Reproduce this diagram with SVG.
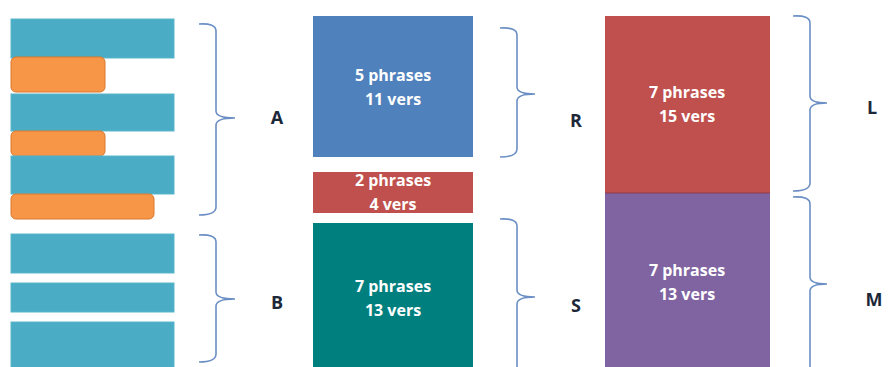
<svg xmlns="http://www.w3.org/2000/svg" width="890" height="367" viewBox="0 0 890 367">
  <style>
    .bar { fill: #4aacc5; stroke: #5bb5cc; stroke-width: 1; }
    .alt { fill: #f79646; stroke: #d9782f; stroke-width: 1; }
    .box { stroke: none; }
    .inner { font-family: "Open Sans", "Liberation Sans", sans-serif; font-weight: 700; font-size: 16px; fill: #ffffff; text-anchor: middle; }
    .brace { fill: none; stroke: #6b8fc4; stroke-width: 1.6; }
    .label { font-family: "Open Sans", "Liberation Sans", sans-serif; font-weight: 700; font-size: 18px; fill: #1c2838; text-anchor: middle; }
  </style>
  <rect width="890" height="367" fill="#ffffff"/>

  <!-- left column: verse lines -->
  <g id="lines">
    <rect class="bar" x="11" y="19" width="163" height="39"/>
    <rect class="alt" x="11" y="57" width="94" height="35" rx="5"/>
    <rect class="bar" x="11" y="94" width="163" height="37"/>
    <rect class="alt" x="11" y="131" width="94" height="25" rx="5"/>
    <rect class="bar" x="11" y="156" width="163" height="38"/>
    <rect class="alt" x="11" y="194" width="143" height="25" rx="5"/>
    <rect class="bar" x="11" y="234" width="163" height="39"/>
    <rect class="bar" x="11" y="283" width="163" height="29"/>
    <rect class="bar" x="11" y="322" width="163" height="50"/>
  </g>

  <!-- middle column -->
  <g id="box-r">
    <rect class="box" x="313" y="16" width="160" height="141" fill="#4f81bd"/>
    <text class="inner" x="393" y="81">5 phrases</text>
    <text class="inner" x="393" y="105">11 vers</text>
  </g>
  <g id="box-bridge">
    <rect class="box" x="313" y="172" width="160" height="41" fill="#c0504d"/>
    <text class="inner" x="393" y="186">2 phrases</text>
    <text class="inner" x="393" y="210">4 vers</text>
  </g>
  <g id="box-s">
    <rect class="box" x="313" y="223" width="160" height="150" fill="#007f7f"/>
    <text class="inner" x="393" y="292">7 phrases</text>
    <text class="inner" x="393" y="316">13 vers</text>
  </g>

  <!-- right column -->
  <g id="box-l">
    <rect class="box" x="605" y="16" width="165" height="177" fill="#c0504d"/>
    <text class="inner" x="687" y="98">7 phrases</text>
    <text class="inner" x="687" y="122">15 vers</text>
  </g>
  <g id="box-m">
    <rect class="box" x="605" y="193" width="165" height="180" fill="#8064a2"/>
    <text class="inner" x="687" y="276">7 phrases</text>
    <text class="inner" x="687" y="300">13 vers</text>
    <line x1="605" y1="193" x2="770" y2="193" stroke="#8a3c50" stroke-width="1"/>
  </g>

  <!-- braces -->
  <g id="connectors">
    <path class="brace" d="M199,24 Q216,23 216,31 L216,111 Q216,118 235,118 Q216,118 216,125 L216,207 Q216,215 199,215"/>
    <path class="brace" d="M199,235 Q216,234 216,242 L216,292 Q216,299 235,299 Q216,299 216,306 L216,354 Q216,362 199,362"/>
    <path class="brace" d="M500,28 Q517,27 517,35 L517,87 Q517,94 535,94 Q517,94 517,101 L517,149 Q517,157 500,157"/>
    <path class="brace" d="M500,219 Q517,218 517,226 L517,290 Q517,297 535,297 Q517,297 517,304 L517,380"/>
    <path class="brace" d="M793,16 Q810,15 810,23 L810,96 Q810,103 827,103 Q810,103 810,110 L810,183 Q810,191 793,191"/>
    <path class="brace" d="M793,197 Q810,196 810,204 L810,277 Q810,284 827,284 Q810,284 810,291 L810,380"/>
  </g>

  <!-- section letters -->
  <g id="labels">
    <text class="label" x="277" y="124">A</text>
    <text class="label" x="277" y="309">B</text>
    <text class="label" x="576" y="127">R</text>
    <text class="label" x="576" y="312">S</text>
    <text class="label" x="872" y="114">L</text>
    <text class="label" x="874" y="306">M</text>
  </g>
</svg>
